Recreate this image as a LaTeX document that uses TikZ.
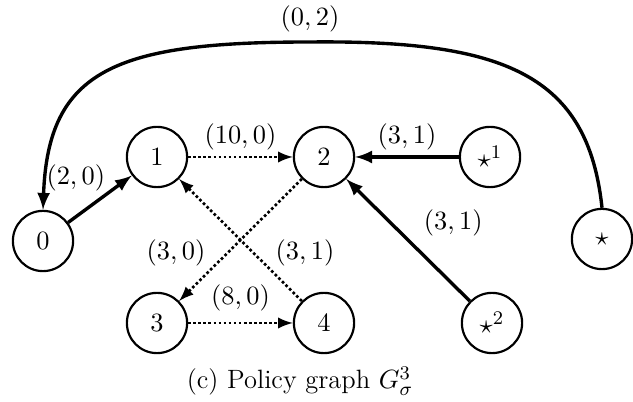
\documentclass[tikz,border=0pt]{standalone}
\usepackage{amsmath}
\usepackage{tikz}

\begin{document}
\begin{tikzpicture}[x=0.415pt,y=-0.415pt,font=\fontsize{11}{13}\selectfont,st/.style={circle,draw,line width=0.9pt,minimum size=25pt,inner sep=0pt},solidarr/.style={-latex,line width=1.4pt},dotarr/.style={-latex,line width=1.1pt,densely dotted}]
\useasboundingbox (0,0) rectangle (633,402);
\foreach \n/\x/\y/\t in %
{n0/43/241/0,n1/157/157/1,n2/324/157/2,s1/490/157/\star^1,
 s0/602/239/\star,n3/157/323/3,n4/324/323/4,s2/492/323/\star^2} {
   \node[st] (\n) at (\x,\y) {$\t$};
}
\coordinate (top) at (310,42);
\draw[solidarr] (s0.north) .. controls (588,75) and (505,40) .. (top)
   node[above]{$(0,2)$} .. controls (115,42) and (48,70) .. (n0.north);
\draw[solidarr] (n0) -- node[pos=0.62,above left=-3pt]{$(2,0)$} (n1);
\draw[dotarr] (n1) -- node[above=-1pt]{$(10,0)$} (n2);
\draw[solidarr] (s1) -- node[above=-1pt]{$(3,1)$} (n2);
\draw[solidarr] (s2) -- node[pos=0.45,above right]{$(3,1)$} (n2);
\draw[dotarr] (n2) -- node[pos=0.75,above left=-2pt]{$(3,0)$} (n3);
\draw[dotarr] (n4) -- node[pos=0.25,above right=-2pt]{$(3,1)$} (n1);
\draw[dotarr] (n3) -- node[above=1pt]{$(8,0)$} (n4);
\node (cap) at (300,381) {(c) Policy graph $G^3_\sigma$};
\end{tikzpicture}
\end{document}
